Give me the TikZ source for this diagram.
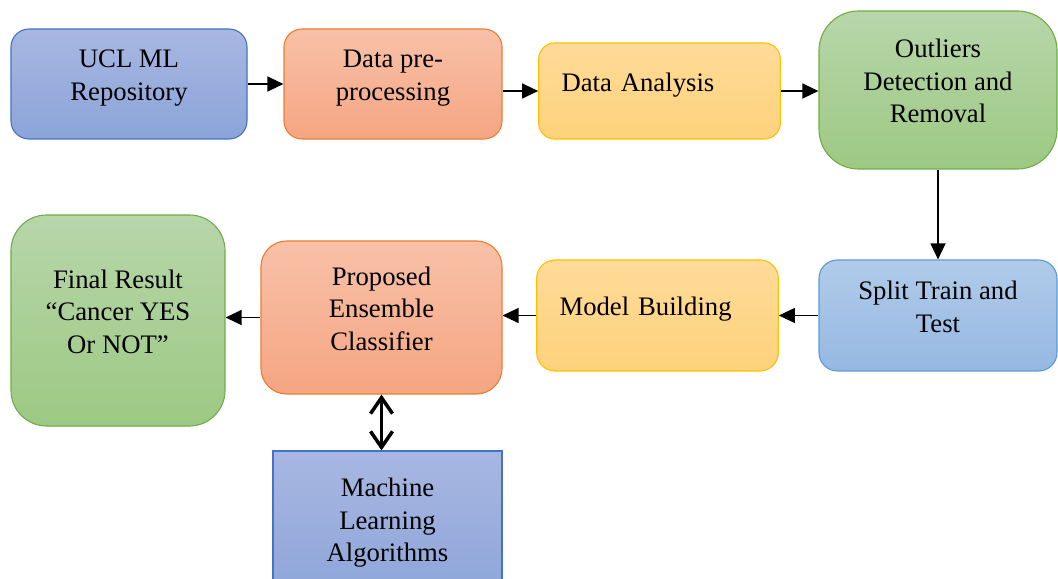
\documentclass[tikz,border=0pt]{standalone}
\usepackage{fontspec}
\setmainfont{Liberation Serif}
\usetikzlibrary{arrows.meta}
\pgfdeclarelayer{edgelayer}
\pgfdeclarelayer{nodelayer}
\pgfsetlayers{edgelayer,nodelayer,main}
\definecolor{bluetop}{RGB}{168,183,226}
\definecolor{bluebottom}{RGB}{139,164,216}
\definecolor{blueline}{RGB}{68,114,196}
\definecolor{skytop}{RGB}{177,203,233}
\definecolor{skybottom}{RGB}{149,184,227}
\definecolor{skyline}{RGB}{91,155,213}
\definecolor{orangetop}{RGB}{248,193,168}
\definecolor{orangebottom}{RGB}{245,165,130}
\definecolor{orangeline}{RGB}{237,125,49}
\definecolor{yellowtop}{RGB}{255,219,153}
\definecolor{yellowbottom}{RGB}{254,210,124}
\definecolor{yellowline}{RGB}{255,192,0}
\definecolor{greentop}{RGB}{183,214,170}
\definecolor{greenbottom}{RGB}{157,201,131}
\definecolor{greenline}{RGB}{112,173,71}
\tikzstyle{box}=[rectangle,line width=0.8pt,align=center,font=\fontsize{19}{23.2}\selectfont,execute at end node={\rule[-0.45cm]{0pt}{0pt}}]
\tikzstyle{blue_box}=[box,draw=blueline,top color=bluetop,bottom color=bluebottom]
\tikzstyle{sky_box}=[box,draw=skyline,top color=skytop,bottom color=skybottom]
\tikzstyle{orange_box}=[box,draw=orangeline,top color=orangetop,bottom color=orangebottom]
\tikzstyle{green_box}=[box,draw=greenline,top color=greentop,bottom color=greenbottom]
\tikzstyle{yellow_box}=[box,draw=yellowline,top color=yellowtop,bottom color=yellowbottom,align=left,text width=4.9cm,inner xsep=0.57cm]
\tikzstyle{flow}=[-{Triangle[length=0.4cm,width=0.375cm]},draw=black,line width=0.9pt]
\tikzstyle{two_way}=[{Straight Barb[length=0.4cm,width=0.55cm]}-{Straight Barb[length=0.4cm,width=0.55cm]},draw=black,line width=2.5pt]

\begin{document}
\begin{tikzpicture}
	\useasboundingbox (0, 0) rectangle (26.45, -14.475);
	\begin{pgfonlayer}{nodelayer}
		\node [style={blue_box}, minimum width=5.9cm, minimum height=2.75cm, rounded corners=0.45cm] (0) at (3.225, -2.1) {UCL ML\\Repository};
		\node [style={orange_box}, minimum width=5.45cm, minimum height=2.75cm, rounded corners=0.45cm] (1) at (9.825, -2.1) {Data pre-\\processing};
		\node [style={yellow_box}, minimum height=2.4cm, rounded corners=0.4cm] (2) at (16.4875, -2.275) {Data Analysis};
		\node [style={green_box}, minimum width=5.95cm, minimum height=3.95cm, rounded corners=0.99cm] (3) at (23.45, -2.25) {Outliers\\Detection and\\Removal};
		\node [style={sky_box}, minimum width=5.95cm, minimum height=2.775cm, rounded corners=0.46cm] (4) at (23.45, -7.8875) {Split Train and\\Test};
		\node [style={yellow_box}, minimum height=2.775cm, rounded corners=0.46cm] (5) at (16.4375, -7.8875) {Model Building};
		\node [style={orange_box}, minimum width=6.025cm, minimum height=3.825cm, rounded corners=0.64cm] (6) at (9.5375, -7.9375) {Proposed\\Ensemble\\Classifier};
		\node [style={green_box}, minimum width=5.35cm, minimum height=5.275cm, rounded corners=0.89cm] (7) at (2.95, -8.0125) {Final Result\\``Cancer YES\\Or NOT''};
		\node [style={blue_box}, minimum width=5.725cm, minimum height=3.9cm] (8) at (9.6875, -13.225) {Machine\\Learning\\Algorithms};
	\end{pgfonlayer}
	\begin{pgfonlayer}{edgelayer}
		\draw [style=flow] (0) to (1);
		\draw [style=flow] (1.east |- 2.west) to (2.west);
		\draw [style=flow] (2.east) to (2.east -| 3.west);
		\draw [style=flow] (3.south) to (3.south |- 4.north);
		\draw [style=flow] (4.west) to (4.west -| 5.east);
		\draw [style=flow] (5.west) to (5.west -| 6.east);
		\draw [style=flow] (6.west) to (6.west -| 7.east);
		\draw [style=two_way] (6.south) to (6.south |- 8.north);
	\end{pgfonlayer}
\end{tikzpicture}
\end{document}
